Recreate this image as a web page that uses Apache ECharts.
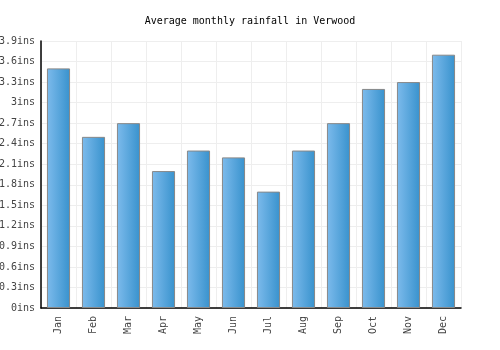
<!DOCTYPE html>
<html>
<head>
<meta charset="utf-8">
<script src="https://cdn.jsdelivr.net/npm/echarts@6/dist/echarts.min.js"></script>
<style>
  html, body { margin: 0; padding: 0; background: #fff; }
  #chart { width: 500px; height: 350px; }
</style>
</head>
<body>
<div id="chart"></div>
<script>
// data
var months = ["Jan", "Feb", "Mar", "Apr", "May", "Jun", "Jul", "Aug", "Sep", "Oct", "Nov", "Dec"];
var rainfall = [3.5, 2.5, 2.7, 2.0, 2.3, 2.2, 1.7, 2.3, 2.7, 3.2, 3.3, 3.7];

var font = "DejaVu Sans Mono";
var chart = echarts.init(document.getElementById("chart"));
var option = {
  animation: false,
  title: {
    text: "Average monthly rainfall in Verwood",
    left: "center",
    top: 11,
    textStyle: { fontFamily: font, fontSize: 10, fontWeight: "normal", color: "#000" }
  },
  grid: { left: 41, right: 39, top: 41, bottom: 42, containLabel: false, outerBoundsMode: "none" },
  xAxis: {
    type: "category",
    data: months,
    axisLine: { lineStyle: { color: "#000", width: 1.5 } },
    axisTick: { show: false },
    splitLine: { show: true, lineStyle: { color: "#eeeeee" } },
    axisLabel: { rotate: 90, fontFamily: font, fontSize: 10, color: "#444", margin: 8 }
  },
  yAxis: {
    type: "value",
    min: 0,
    max: 3.9,
    interval: 0.3,
    axisLine: { show: true, lineStyle: { color: "#000", width: 1.5 } },
    axisTick: { show: false },
    splitLine: { lineStyle: { color: "#eeeeee" } },
    axisLabel: {
      fontFamily: font, fontSize: 10, color: "#444", margin: 6,
      formatter: function (v) { return +v.toFixed(1) + "ins"; }
    }
  },
  series: [{
    type: "bar",
    data: rainfall,
    barWidth: "66%",
    itemStyle: {
      borderColor: "#888",
      borderWidth: 1,
      color: new echarts.graphic.LinearGradient(0, 0, 1, 0, [
        { offset: 0, color: "#7dbbec" },
        { offset: 1, color: "#3892cd" }
      ])
    }
  }]
};
chart.setOption(option);
</script>
</body>
</html>
